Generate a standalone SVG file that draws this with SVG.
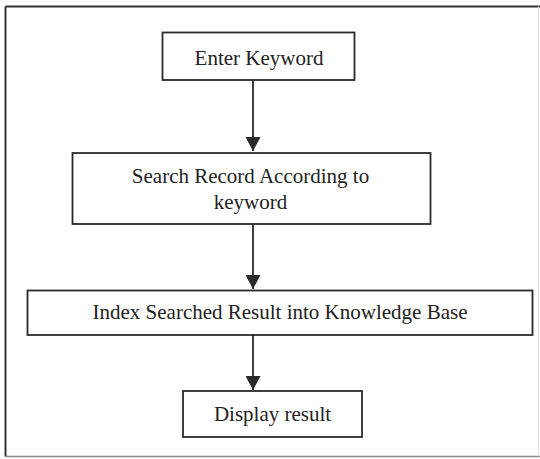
<svg xmlns="http://www.w3.org/2000/svg" width="540" height="459" viewBox="0 0 540 459">
<style>
.box{fill:#fff;stroke:#2a2a2a;stroke-width:1.8}
.lbl{font-family:"Liberation Serif","Times New Roman",serif;font-size:21px;fill:#222;text-anchor:middle}
.con{stroke:#2a2a2a;stroke-width:1.8;fill:none}
.frame{stroke:#333;stroke-width:2;fill:none}
</style>
<defs>
<marker id="ah" viewBox="0 0 14 15" refX="14" refY="7.5" markerWidth="14" markerHeight="15" markerUnits="userSpaceOnUse" orient="auto">
<path d="M0,0 L14,7.5 L0,15 Z" fill="#2a2a2a"/>
</marker>
</defs>
<rect width="540" height="459" fill="#fff"/>
<g id="frame">
<line class="frame" x1="5.5" y1="6.5" x2="540" y2="6.5"/>
<line class="frame" x1="5.5" y1="6.5" x2="5.5" y2="456.5"/>
<line x1="5.5" y1="456.5" x2="540" y2="456.5" style="stroke:#888;stroke-width:1.5"/>
<line x1="538.5" y1="6.5" x2="538.5" y2="456.5" style="stroke:#ddd;stroke-width:1"/>
</g>
<g id="connectors">
<line class="con" x1="253" y1="80" x2="253" y2="151" marker-end="url(#ah)"/>
<line class="con" x1="253" y1="224" x2="253" y2="289" marker-end="url(#ah)"/>
<line class="con" x1="253" y1="335" x2="253" y2="390" marker-end="url(#ah)"/>
</g>
<g id="n1">
<rect class="box" x="162.5" y="32.5" width="192" height="47.5"/>
<text class="lbl" x="259" y="65">Enter Keyword</text>
</g>
<g id="n2">
<rect class="box" x="72.5" y="153" width="358" height="71"/>
<text class="lbl" x="250.5" y="183">Search Record According to</text>
<text class="lbl" x="250.5" y="208.5">keyword</text>
</g>
<g id="n3">
<rect class="box" x="27.5" y="290.5" width="505" height="44.5"/>
<text class="lbl" x="280" y="319">Index Searched Result into Knowledge Base</text>
</g>
<g id="n4">
<rect class="box" x="183" y="391" width="179" height="46"/>
<text class="lbl" x="272.5" y="421">Display result</text>
</g>
</svg>
